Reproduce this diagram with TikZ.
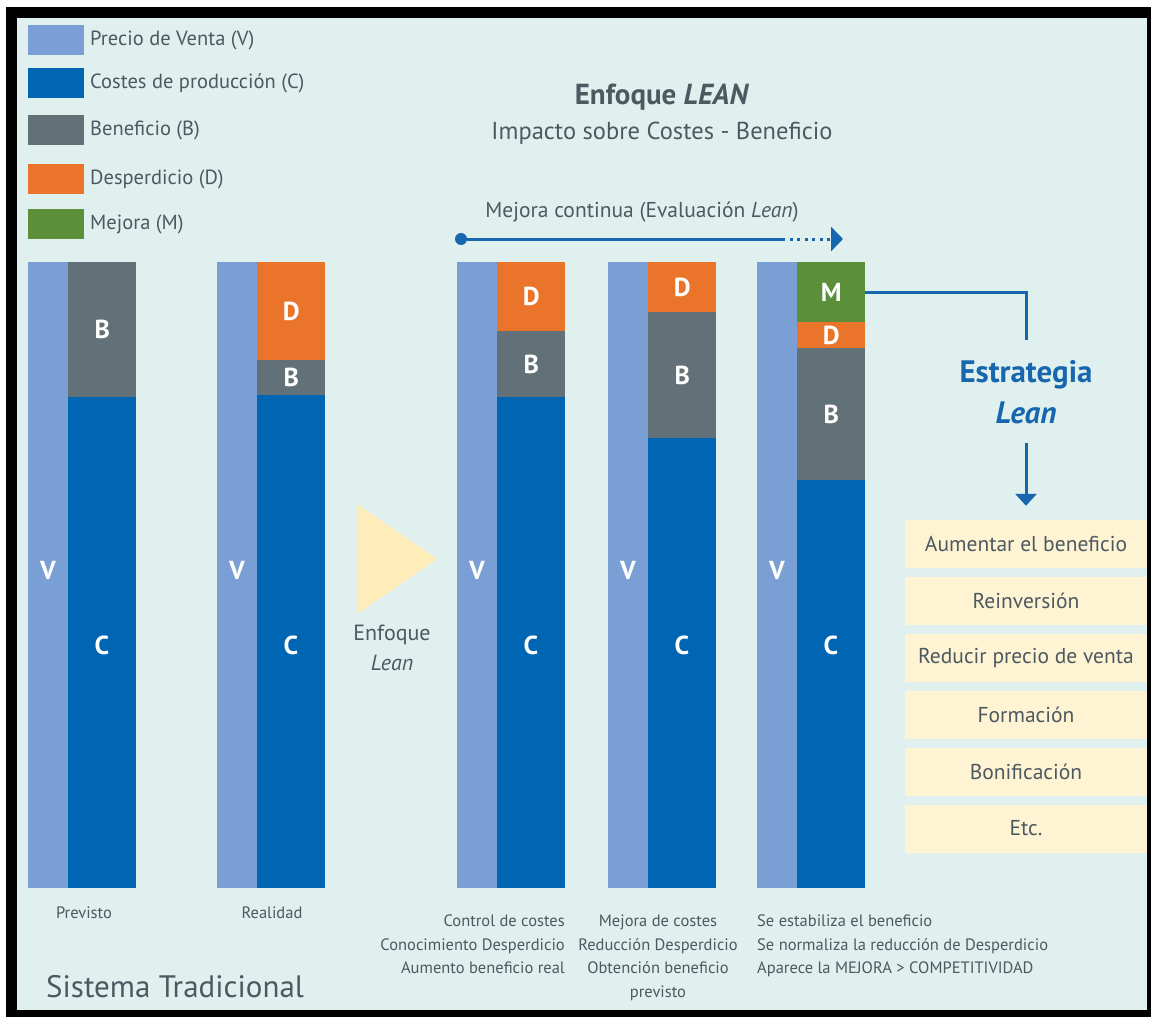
\documentclass[tikz,border=0pt]{standalone}
\usepackage{fontspec}
\setmainfont{PT Sans}
\usetikzlibrary{arrows.meta,positioning}
\definecolor{Teal}{HTML}{DFF0EE}
\definecolor{ColV}{HTML}{7A9FD4}
\definecolor{ColC}{HTML}{0066B3}
\definecolor{ColB}{HTML}{627178}
\definecolor{ColD}{HTML}{E9742A}
\definecolor{ColM}{HTML}{5B8F3A}
\definecolor{TextGray}{HTML}{4D5960}
\definecolor{LineBlue}{HTML}{1767AE}
\definecolor{Cream}{HTML}{FEF4D4}
\definecolor{Butter}{HTML}{FEEDB9}
\newcommand\fsz[2]{\fontsize{#1}{#2}\selectfont}

\begin{document}
\begin{tikzpicture}[x=1pt,y=-1pt,node distance=8.5pt,>=Latex,
seg/.style={anchor=north west,inner sep=0pt,minimum width=68,text=white,font=\fsz{26}{30}\bfseries},
vbar/.style={anchor=north west,inner sep=0pt,minimum width=40,minimum height=626,fill=ColV},
cbar/.style={anchor=north west,inner sep=0pt,minimum width=68,minimum height=626,fill=ColC},
lett/.style={text=white,font=\fsz{26}{30}\bfseries},
swatch/.style={inner sep=0pt,minimum width=56,minimum height=30},
legtext/.style={anchor=west,inner sep=0pt,text=TextGray,font=\fsz{20.5}{24}},
captext/.style={inner sep=0pt,text=TextGray,font=\fsz{16.5}{23.5}},
opt/.style={fill=Cream,minimum width=242,minimum height=48,inner sep=0pt,text=TextGray,font=\fsz{21.5}{25}},
link/.style={draw=LineBlue,line width=3pt}]
\useasboundingbox (0,0) rectangle (1151,1017);
\fill[black] (6,7) rectangle (1151,1017);
\fill[Teal] (17,18) rectangle (1147,1010);

% legend
\foreach \c/\t/\y [count=\i] in {ColV/Precio de Venta (V)/40,ColC/Costes de producción (C)/83,ColB/Beneficio (B)/130,ColD/Desperdicio (D)/179,ColM/Mejora (M)/224}{
  \node[swatch,fill=\c] (sw\i) at (56,\y) {};
  \node[legtext] (lg\i) at (90,\y) {\t};
}

% titles
\node[text=TextGray,font=\fsz{29}{34}\bfseries] (title) at (662,97) {Enfoque \textit{LEAN}};
\node[text=TextGray,font=\fsz{24.5}{28}] (subtitle) at (662,133) {Impacto sobre Costes - Beneficio};
\node[text=TextGray,font=\fsz{21.5}{25}] (mejora) at (642,212) {Mejora continua (Evaluación \textit{Lean})};

% bars: V and C base
\foreach \n/\x in {1/28,2/217,3/457,4/608,5/757}{
  \node[vbar] (v\n) at (\x,262) {};
  \node[cbar] (c\n) at (\x+40,262) {};
  \node[lett] at (\x+20,570) {V};
  \node[lett] at (\x+74,645) {C};
}
% top segments
\node[seg,fill=ColB,minimum height=135] (b1) at (68,262) {B};
\node[seg,fill=ColD,minimum height=98] (d2) at (257,262) {D};
\node[seg,fill=ColB,minimum height=35] (b2) at (257,360) {B};
\node[seg,fill=ColD,minimum height=69] (d3) at (497,262) {D};
\node[seg,fill=ColB,minimum height=66] (b3) at (497,331) {B};
\node[seg,fill=ColD,minimum height=50] (d4) at (648,262) {D};
\node[seg,fill=ColB,minimum height=126] (b4) at (648,312) {B};
\node[seg,fill=ColM,minimum height=60] (m5) at (797,262) {M};
\node[seg,fill=ColD,minimum height=26] (d5) at (797,322) {D};
\node[seg,fill=ColB,minimum height=132] (b5) at (797,348) {B};

% continuous improvement arrow
\node[circle,fill=LineBlue,inner sep=0pt,minimum size=12] (dot) at (461,239) {};
\coordinate (solid) at (782,239);
\coordinate (tip) at (843,239);
\draw[link] (dot) -- (solid);
\draw[link,dash pattern=on 3pt off 4.5pt,-{Triangle[length=12pt,width=24pt]}] (solid) -- (tip);

% lean approach triangle
\fill[Butter] (357,504) -- (437,559) -- (357,614) -- cycle;
\node[text=TextGray,font=\fsz{22}{30},align=center] (enf) at (392,648) {Enfoque\\\textit{Lean}};

% captions
\node[captext] (cp1) at (84,913) {Previsto};
\node[captext] (cp2) at (272,913) {Realidad};
\node[captext,anchor=north east,align=right] (cp3) at (565,915) {Control de costes\\Conocimiento Desperdicio\\Aumento beneficio real};
\node[captext,anchor=north,align=center] (cp4) at (658,915) {Mejora de costes\\Reducción Desperdicio\\Obtención beneficio\\previsto};
\node[captext,anchor=north west,align=left] (cp5) at (757,915) {Se estabiliza el beneficio\\Se normaliza la reducción de Desperdicio\\Aparece la MEJORA > COMPETITIVIDAD};
\node[anchor=west,inner sep=0pt,text=TextGray,font=\fsz{31}{36}] (trad) at (46,987) {Sistema Tradicional};

% lean strategy
\node[text=LineBlue,font=\fsz{31}{41}\bfseries,align=center] (strat) at (1026,392) {Estrategia\\\textit{Lean}};
\node[opt] (o1) at (1026,544) {Aumentar el beneficio};
\node[opt,below=of o1] (o2) {Reinversión};
\node[opt,below=of o2] (o3) {Reducir precio de venta};
\node[opt,below=of o3] (o4) {Formación};
\node[opt,below=of o4] (o5) {Bonificación};
\node[opt,below=of o5] (o6) {Etc.};
\draw[link,shorten >=17pt] (m5.east) -| (strat.north);
\draw[link,shorten <=16pt,shorten >=14pt,-{Triangle[length=12pt,width=21pt]}] (strat.south) -- (o1.north);
\end{tikzpicture}
\end{document}
